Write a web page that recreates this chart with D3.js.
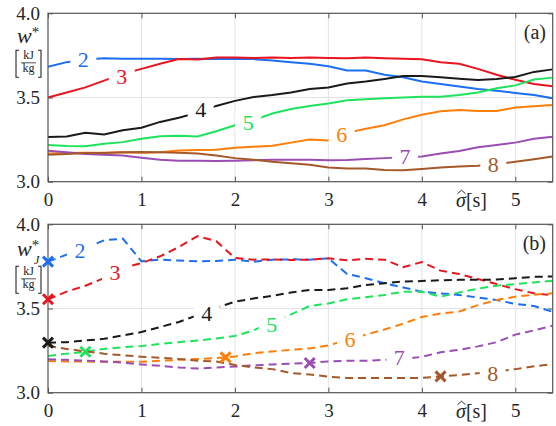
<!DOCTYPE html>
<html>
<head>
<meta charset="utf-8">
<script src="https://cdn.jsdelivr.net/npm/d3@7"></script>
<style>
  body { margin: 0; background: #fff; }
  text { font-family: "Liberation Serif", "Times New Roman", serif; }
</style>
</head>
<body>
<div id="chart_area"></div>
<script>
// sigma hat [s]
var sigma = [0, 0.2, 0.4, 0.6, 0.8, 1.0, 1.2, 1.4, 1.6, 1.8, 2.0, 2.2, 2.4, 2.6,
             2.8, 3.0, 3.2, 3.4, 3.6, 3.8, 4.0, 4.2, 4.4, 4.6, 4.8, 5.0, 5.2, 5.4];
var names = ["2", "3", "4", "5", "6", "7", "8"];
var colours = ["#1d6ef2", "#e8151f", "#1a1a1a", "#1ee35c", "#ff7e0a", "#9a4db3", "#a5592b"];

// panel (a): w*
var a2 = [3.683, 3.71, 3.725, 3.733, 3.73, 3.73, 3.73, 3.728, 3.73, 3.728, 3.73, 3.728, 3.72, 3.71,
          3.70, 3.685, 3.66, 3.66, 3.635, 3.62, 3.595, 3.58, 3.565, 3.55, 3.54, 3.527, 3.515, 3.495];
var a3 = [3.50, 3.53, 3.56, 3.60, 3.64, 3.67, 3.70, 3.728, 3.725, 3.738, 3.738, 3.735, 3.737, 3.735,
          3.737, 3.735, 3.733, 3.737, 3.733, 3.73, 3.727, 3.71, 3.70, 3.67, 3.635, 3.605, 3.58, 3.567];
var a4 = [3.265, 3.268, 3.29, 3.28, 3.305, 3.32, 3.355, 3.38, 3.41, 3.45, 3.48, 3.503, 3.515, 3.53,
          3.55, 3.56, 3.583, 3.595, 3.61, 3.628, 3.628, 3.62, 3.612, 3.604, 3.61, 3.622, 3.652, 3.667];
var a5 = [3.218, 3.212, 3.21, 3.226, 3.235, 3.255, 3.27, 3.273, 3.268, 3.30, 3.335, 3.365, 3.405, 3.432,
          3.45, 3.465, 3.483, 3.49, 3.495, 3.50, 3.505, 3.505, 3.515, 3.53, 3.555, 3.572, 3.607, 3.618];
var a6 = [3.168, 3.17, 3.172, 3.172, 3.175, 3.172, 3.175, 3.185, 3.188, 3.19, 3.202, 3.208, 3.213, 3.232,
          3.25, 3.245, 3.29, 3.315, 3.335, 3.37, 3.398, 3.418, 3.426, 3.42, 3.42, 3.44, 3.448, 3.455];
var a7 = [3.184, 3.175, 3.165, 3.16, 3.155, 3.142, 3.13, 3.125, 3.125, 3.123, 3.125, 3.128, 3.13, 3.13,
          3.13, 3.128, 3.129, 3.135, 3.14, 3.145, 3.15, 3.168, 3.182, 3.205, 3.218, 3.232, 3.255, 3.267];
var a8 = [3.16, 3.165, 3.17, 3.17, 3.175, 3.177, 3.175, 3.172, 3.168, 3.155, 3.14, 3.13, 3.118, 3.11,
          3.10, 3.085, 3.079, 3.078, 3.07, 3.068, 3.076, 3.085, 3.09, 3.095, 3.105, 3.118, 3.133, 3.149];

// panel (b): w*_J
var b2 = [3.778, 3.82, 3.86, 3.905, 3.915, 3.78, 3.79, 3.785, 3.78, 3.782, 3.79, 3.778, 3.79, 3.792,
          3.79, 3.798, 3.705, 3.68, 3.65, 3.625, 3.60, 3.59, 3.58, 3.565, 3.55, 3.527, 3.515, 3.48];
var b3 = [3.555, 3.60, 3.635, 3.68, 3.74, 3.77, 3.81, 3.865, 3.93, 3.90, 3.80, 3.79, 3.792, 3.788,
          3.79, 3.798, 3.786, 3.795, 3.79, 3.745, 3.776, 3.725, 3.705, 3.675, 3.645, 3.615, 3.59, 3.578];
var b4 = [3.297, 3.30, 3.31, 3.32, 3.34, 3.36, 3.39, 3.42, 3.46, 3.505, 3.54, 3.56, 3.575, 3.595,
          3.61, 3.61, 3.62, 3.64, 3.65, 3.66, 3.663, 3.668, 3.67, 3.67, 3.672, 3.68, 3.688, 3.69];
var b5 = [3.218, 3.232, 3.243, 3.26, 3.27, 3.277, 3.29, 3.30, 3.31, 3.322, 3.337, 3.37, 3.42, 3.465,
          3.515, 3.53, 3.555, 3.567, 3.58, 3.60, 3.60, 3.57, 3.595, 3.618, 3.635, 3.645, 3.655, 3.665];
var b6 = [3.188, 3.186, 3.185, 3.184, 3.184, 3.184, 3.19, 3.195, 3.20, 3.205, 3.215, 3.235, 3.245, 3.255,
          3.263, 3.28, 3.315, 3.345, 3.375, 3.41, 3.45, 3.47, 3.482, 3.52, 3.55, 3.57, 3.582, 3.59];
var b7 = [3.198, 3.195, 3.19, 3.186, 3.178, 3.168, 3.16, 3.15, 3.143, 3.15, 3.155, 3.162, 3.168, 3.172,
          3.176, 3.186, 3.19, 3.19, 3.195, 3.20, 3.213, 3.24, 3.255, 3.275, 3.30, 3.345, 3.37, 3.398];
var b8 = [3.277, 3.26, 3.245, 3.232, 3.222, 3.214, 3.207, 3.20, 3.19, 3.185, 3.165, 3.15, 3.14, 3.117,
          3.108, 3.095, 3.088, 3.087, 3.087, 3.087, 3.088, 3.097, 3.105, 3.115, 3.125, 3.14, 3.157, 3.17];

// start markers in (b)
var markSigma = [0, 0, 0, 0.4, 1.9, 2.8, 4.2];
var markW = [3.778, 3.555, 3.297, 3.243, 3.21, 3.176, 3.097];

// inline label anchors (sigma, w)
var labelsA = [[0.378, 3.723], [0.789, 3.624], [1.634, 3.426], [2.143, 3.347],
               [3.142, 3.277], [3.82, 3.148], [4.765, 3.099]];
var labelsB = [[0.342, 3.841], [0.717, 3.713], [1.698, 3.466], [2.394, 3.404],
               [3.231, 3.313], [3.759, 3.208], [4.758, 3.109]];

var xTicks = [0, 1, 2, 3, 4, 5];
var yTicks = [3.0, 3.5, 4.0];

var plotH = 168.4,
    left = 48, right = 552.7;

var svg = d3.select("#chart_area")
    .append("svg")
    .attr("width", 556)
    .attr("height", 426);

var x = d3.scaleLinear().domain([0, 5.4]).range([left, right]);

function drawPanel(top, series, dashed, labels, tag) {
    var y = d3.scaleLinear().domain([3, 4]).range([top + plotH, top]);
    var g = svg.append("g");

    // grid
    g.selectAll(".gx").data(xTicks.slice(1)).enter().append("line")
        .attr("x1", d => x(d)).attr("x2", d => x(d))
        .attr("y1", top).attr("y2", top + plotH)
        .attr("stroke", "#e3e3e3").attr("stroke-width", 1);
    g.append("line")
        .attr("x1", left).attr("x2", right)
        .attr("y1", y(3.5)).attr("y2", y(3.5))
        .attr("stroke", "#e3e3e3").attr("stroke-width", 1);

    // axes
    g.append("g").attr("transform", "translate(0," + (top + plotH) + ")")
        .call(d3.axisBottom(x).tickValues(xTicks).tickSizeInner(-5).tickSizeOuter(0).tickPadding(11)
            .tickFormat(d3.format("d")));
    g.append("g").attr("transform", "translate(0," + top + ")")
        .call(d3.axisTop(x).tickValues(xTicks).tickSizeInner(-5).tickSizeOuter(0).tickFormat(""));
    g.append("g").attr("transform", "translate(" + left + ",0)")
        .call(d3.axisLeft(y).tickValues(yTicks).tickSizeInner(-5).tickSizeOuter(0).tickPadding(8)
            .tickFormat(d3.format(".1f")));
    g.append("g").attr("transform", "translate(" + right + ",0)")
        .call(d3.axisRight(y).tickValues(yTicks).tickSizeInner(-5).tickSizeOuter(0).tickFormat(""));
    g.selectAll(".domain").remove();
    g.selectAll(".tick line").attr("stroke", "#555");
    g.selectAll(".tick text")
        .attr("font-family", "Liberation Serif, serif")
        .attr("font-size", 19)
        .attr("fill", "#262626");

    // lines
    var line = d3.line().x((d, i) => x(sigma[i])).y(d => y(d));
    series.forEach(function (s, i) {
        g.append("path")
            .datum(s)
            .attr("d", line)
            .attr("fill", "none")
            .attr("stroke", colours[i])
            .attr("stroke-width", 2)
            .attr("stroke-dasharray", dashed ? "8,5" : null);
    });

    // inline labels with a white gap
    labels.forEach(function (p, i) {
        var cx = x(p[0]), cy = y(p[1]);
        g.append("rect")
            .attr("x", cx - 13).attr("y", cy - 9)
            .attr("width", 26).attr("height", 18)
            .attr("fill", "#fff");
        g.append("text")
            .attr("x", cx).attr("y", cy + 7)
            .attr("text-anchor", "middle")
            .attr("font-size", 22)
            .attr("fill", colours[i])
            .text(names[i]);
    });

    // box
    g.append("rect")
        .attr("x", left).attr("y", top)
        .attr("width", right - left).attr("height", plotH)
        .attr("fill", "none").attr("stroke", "#555").attr("stroke-width", 1.2);

    // panel tag
    g.append("text")
        .attr("x", 546).attr("y", top + 26)
        .attr("text-anchor", "end")
        .attr("font-size", 20)
        .attr("fill", "#262626")
        .text(tag);

    // x label sigma hat [s]
    var base = top + plotH;
    var xl = g.append("text")
        .attr("x", 456).attr("y", base + 25)
        .attr("font-size", 20)
        .attr("fill", "#262626");
    xl.append("tspan").attr("font-style", "italic").text("σ");
    xl.append("tspan").text("[s]");
    g.append("path")
        .attr("d", "M457.5," + (base + 12) + "L461.5," + (base + 8.5) + "L465.5," + (base + 12))
        .attr("fill", "none").attr("stroke", "#262626").attr("stroke-width", 1);

    return y;
}

var yA = drawPanel(13.3, [a2, a3, a4, a5, a6, a7, a8], false, labelsA, "(a)");
var yB = drawPanel(224.3, [b2, b3, b4, b5, b6, b7, b8], true, labelsB, "(b)");

// markers on (b)
svg.append("g").selectAll("path")
    .data(markSigma)
    .enter()
    .append("path")
    .attr("transform", (d, i) => "translate(" + x(d) + "," + yB(markW[i]) + ")")
    .attr("d", "M-5,-5L5,5M-5,5L5,-5")
    .attr("stroke", (d, i) => colours[i])
    .attr("stroke-width", 3)
    .attr("fill", "none");

// y labels
function yLabel(top, sub) {
    var g = svg.append("g").attr("fill", "#262626");
    var t = g.append("text").attr("x", 17).attr("y", top + (sub ? 32 : 30))
        .attr("font-size", 22);
    t.append("tspan").attr("font-style", "italic").text("w");
    t.append("tspan").attr("font-size", 15).attr("dy", -6).text("*");
    if (sub) {
        g.append("text").attr("x", 34).attr("y", top + 40)
            .attr("font-size", 12).attr("font-style", "italic").text("J");
    }
    var b0 = top + (sub ? 42 : 37), b1 = b0 + 27, cx = 28.5;
    g.append("path")
        .attr("d", "M19," + b0 + "H16V" + b1 + "H19M38," + b0 + "H41V" + b1 + "H38")
        .attr("fill", "none").attr("stroke", "#262626").attr("stroke-width", 1.1);
    g.append("text").attr("x", cx).attr("y", b0 + 9)
        .attr("text-anchor", "middle").attr("font-size", 12).text("kJ");
    g.append("line").attr("x1", 21).attr("x2", 36)
        .attr("y1", b0 + 12.5).attr("y2", b0 + 12.5)
        .attr("stroke", "#262626").attr("stroke-width", 0.8);
    g.append("text").attr("x", cx).attr("y", b0 + 22)
        .attr("text-anchor", "middle").attr("font-size", 12).text("kg");
}
yLabel(13.3, false);
yLabel(224.3, true);
</script>
</body>
</html>
